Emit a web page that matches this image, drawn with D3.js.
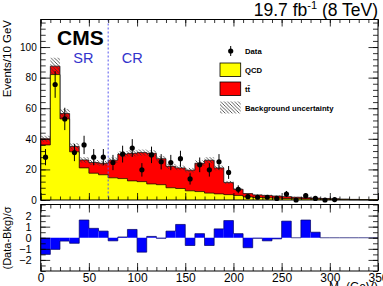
<!DOCTYPE html>
<html><head><meta charset="utf-8">
<script src="https://cdn.jsdelivr.net/npm/d3@7"></script>
<style>body{margin:0;background:#fff} svg{display:block} text{font-family:"Liberation Sans",Arial,Helvetica,sans-serif}</style>
</head><body><svg id="c" width="383" height="286"></svg>
<script>
const binLow = [0,10,20,30,40,50,60,70,80,90,100,110,120,130,140,150,160,170,180,190,200,210,220,230,240,250,260,270,280,290,300,310,320,330,340];
const binWidth = 10;
const qcd   = [36,82,53,31.5,21,17.5,16.5,14.5,14,12.5,12,10.5,10,8,7.5,6,5.5,4.5,4,3.5,3,2,1.6,1.4,1.2,1,0.9,0.7,0.6,0.5,0.4,0.3,0.2,0.15,0.1];
const ttbar = [4,5.5,3.5,3.5,5.2,7,7.5,11.5,16,18,19,20,17,14,13.5,13.5,18.5,21.5,17,8,4,2.2,1.7,1.6,1.4,1.2,0.9,0.8,0.6,0.5,0.4,0.3,0.2,0.15,0.1];
const bkgUnc = [2,5.5,3,2.2,1.8,1.6,1.6,1.8,2,2,2,2,1.8,1.6,1.5,1.5,1.8,2,1.6,1,0.7,0.4,0.4,0.4,0.3,0.3,0.3,0.3,0.2,0.2,0.2,0.1,0.1,0.1,0.1];
const dataVal = [28,75.5,53,31,36,28,28,24.5,30,34,19.7,29.5,25,24.5,27,13.8,23,19.7,25,18,7,2.2,1.8,1.8,1,3.9,0,2.8,1,0,0.3];
const dataErr = [5.3,8.7,7.3,5.6,6,5.3,5.3,5,5.5,5.8,4.4,5.4,5,5,5.2,3.7,4.8,4.4,5,4.2,2.6,1.5,1.3,1.3,1,2,0,1.7,1,0,0.5];
const pull = [-1.5,-1.05,-0.3,-0.5,1.6,0.85,0.6,-0.28,0.07,0.75,-1.3,0.12,-0.05,0.6,1.2,-0.7,0.37,-0.7,0.8,1.55,0.37,-0.9,-0.05,-0.28,-0.1,1.5,0,1.6,0.5,0,0,0,0,0,0];
const xTicks = [0,50,100,150,200,250,300,350];
const yTicks = [0,20,40,60,80,100];
const pullTicks = [-2,-1,0,1,2];
const srCrBoundary = 70;

const svg = d3.select("#c");
const L = 40.7, R = 378, T = 19.5, B = 200, RT = 204.5, RB = 271;
const x = d3.scaleLinear().domain([0,350]).range([L,R]);
const y = d3.scaleLinear().domain([0,118]).range([B,T]);
const yr = d3.scaleLinear().domain([-3,3]).range([RB,RT]);

const defs = svg.append("defs");
const pat = defs.append("pattern").attr("id","hatch").attr("patternUnits","userSpaceOnUse").attr("width",3.5).attr("height",3.5);
pat.append("path").attr("d","M0,0 L3.5,3.5 M-1,2.5 L1,4.5 M2.5,-1 L4.5,1").attr("stroke","#333").attr("stroke-width",0.8);

const total = qcd.map((q,i)=>q+ttbar[i]);
function stepPts(vals){
  const pts=[[binLow[0],0]];
  vals.forEach((v,i)=>{pts.push([binLow[i],v]);pts.push([binLow[i]+binWidth,v]);});
  pts.push([binLow[binLow.length-1]+binWidth,0]);
  return pts;
}
const area = d3.area().x(d=>x(d[0])).y0(y(0)).y1(d=>y(d[1]));
const line = d3.line().x(d=>x(d[0])).y(d=>y(d[1]));

svg.append("path").attr("d",area(stepPts(total))).attr("fill","#ff0000");
svg.append("path").attr("d",line(stepPts(total))).attr("fill","none").attr("stroke","#000").attr("stroke-width",0.7);
svg.append("path").attr("d",area(stepPts(qcd))).attr("fill","#ffff00");
svg.append("path").attr("d",line(stepPts(qcd))).attr("fill","none").attr("stroke","#000").attr("stroke-width",0.7);

svg.append("g").selectAll("rect").data(binLow).join("rect")
  .attr("x",(d)=>x(d)).attr("width",(d)=>x(d+binWidth)-x(d))
  .attr("y",(d,i)=>y(total[i]+bkgUnc[i])).attr("height",(d,i)=>y(total[i]-bkgUnc[i])-y(total[i]+bkgUnc[i]))
  .attr("fill","url(#hatch)");

const dg = svg.append("g");
dataVal.forEach((v,i)=>{
  const cx = x(binLow[i]+binWidth/2);
  dg.append("line").attr("x1",cx).attr("x2",cx).attr("y1",y(v-dataErr[i])).attr("y2",y(v+dataErr[i])).attr("stroke","#000").attr("stroke-width",1);
  dg.append("circle").attr("cx",cx).attr("cy",y(v)).attr("r",2.6).attr("fill","#000");
});

svg.append("line").attr("x1",x(srCrBoundary)).attr("x2",x(srCrBoundary)).attr("y1",T).attr("y2",B)
  .attr("stroke","#5555ee").attr("stroke-width",1).attr("stroke-dasharray","2,2");

svg.append("rect").attr("x",L).attr("y",T).attr("width",R-L).attr("height",B-T).attr("fill","none").attr("stroke","#000").attr("stroke-width",1);

function axisG(ax){ const g=svg.append("g").call(ax); g.select(".domain").remove(); g.selectAll("text").attr("font-family","Liberation Sans, Arial, sans-serif"); return g; }
const yMinor = d3.range(0,118,4);
const xMinor = d3.range(0,351,10);
axisG(d3.axisLeft(y).tickValues(yTicks).tickSize(-9.5).tickPadding(4).tickFormat(d3.format("d"))).attr("transform",`translate(${L},0)`).selectAll("text").attr("font-size",10);
axisG(d3.axisLeft(y).tickValues(yMinor).tickSize(-5).tickFormat("")).attr("transform",`translate(${L},0)`);
axisG(d3.axisRight(y).tickValues(yTicks).tickSize(-9.5).tickFormat("")).attr("transform",`translate(${R},0)`);
axisG(d3.axisRight(y).tickValues(yMinor).tickSize(-5).tickFormat("")).attr("transform",`translate(${R},0)`);
axisG(d3.axisBottom(x).tickValues(xTicks).tickSize(-7).tickFormat("")).attr("transform",`translate(0,${B})`);
axisG(d3.axisBottom(x).tickValues(xMinor).tickSize(-3.5).tickFormat("")).attr("transform",`translate(0,${B})`);
axisG(d3.axisTop(x).tickValues(xTicks).tickSize(-7).tickFormat("")).attr("transform",`translate(0,${T})`);
axisG(d3.axisTop(x).tickValues(xMinor).tickSize(-3.5).tickFormat("")).attr("transform",`translate(0,${T})`);

svg.append("g").selectAll("rect").data(binLow).join("rect")
  .attr("x",d=>x(d)).attr("width",d=>x(d+binWidth)-x(d))
  .attr("y",(d,i)=>Math.min(yr(0),yr(pull[i]))).attr("height",(d,i)=>Math.abs(yr(pull[i])-yr(0)))
  .attr("fill","#0000ff");
const rline = d3.line().x(d=>x(d[0])).y(d=>yr(d[1]));
svg.append("path").attr("d",rline(stepPts(pull))).attr("fill","none").attr("stroke","#000066").attr("stroke-width",0.7);
svg.append("rect").attr("x",L).attr("y",RT).attr("width",R-L).attr("height",RB-RT).attr("fill","none").attr("stroke","#000").attr("stroke-width",1);
const rMinor = d3.range(-3,3.01,0.5);
const minusFmt = d=> d<0 ? "\u2212"+Math.abs(d) : String(d);
axisG(d3.axisLeft(yr).tickValues(pullTicks).tickSize(-9.5).tickPadding(9).tickFormat(minusFmt)).attr("transform",`translate(${L},0)`).selectAll("text").attr("font-size",11);
axisG(d3.axisLeft(yr).tickValues(rMinor).tickSize(-5).tickFormat("")).attr("transform",`translate(${L},0)`);
axisG(d3.axisRight(yr).tickValues(pullTicks).tickSize(-9.5).tickFormat("")).attr("transform",`translate(${R},0)`);
axisG(d3.axisRight(yr).tickValues(rMinor).tickSize(-5).tickFormat("")).attr("transform",`translate(${R},0)`);
axisG(d3.axisBottom(x).tickValues(xTicks).tickSize(-8).tickPadding(2).tickFormat(d3.format("d"))).attr("transform",`translate(0,${RB})`).selectAll("text").attr("font-size",12);
axisG(d3.axisBottom(x).tickValues(xMinor).tickSize(-4).tickFormat("")).attr("transform",`translate(0,${RB})`);
axisG(d3.axisTop(x).tickValues(xTicks).tickSize(-8).tickFormat("")).attr("transform",`translate(0,${RT})`);
axisG(d3.axisTop(x).tickValues(xMinor).tickSize(-4).tickFormat("")).attr("transform",`translate(0,${RT})`);
svg.selectAll(".tick line").attr("stroke","#000").attr("stroke-width",0.8);
svg.selectAll(".tick text").attr("fill","#000");

const lumi = svg.append("text").attr("x",378).attr("y",16).attr("text-anchor","end").attr("font-size",17.5);
lumi.append("tspan").text("19.7 fb");
lumi.append("tspan").attr("font-size",11).attr("dy",-7).text("-1");
lumi.append("tspan").attr("dy",7).text(" (8 TeV)");

svg.append("text").attr("x",57).attr("y",45).attr("font-size",21).attr("font-weight","bold").text("CMS");
svg.append("text").attr("x",73.3).attr("y",62.7).attr("font-size",14.5).attr("fill","#3333cc").text("SR");
svg.append("text").attr("x",121.7).attr("y",62.7).attr("font-size",14.5).attr("fill","#3333cc").text("CR");

svg.append("text").attr("transform","translate(10.5,20) rotate(-90)").attr("text-anchor","end").attr("font-size",11.5).text("Events/10 GeV");
svg.append("text").attr("transform","translate(10.5,238) rotate(-90)").attr("text-anchor","middle").attr("font-size",11).text("(Data-Bkg)/\u03c3");
const xl = svg.append("text").attr("x",378).attr("y",291).attr("text-anchor","end").attr("font-size",12);
xl.append("tspan").text("M");
xl.append("tspan").attr("font-size",8.5).attr("dy",3).text("jj");
xl.append("tspan").attr("dy",-3).text(" (GeV)");

const lg = svg.append("g");
lg.append("line").attr("x1",230.7).attr("x2",230.7).attr("y1",46).attr("y2",56).attr("stroke","#000");
lg.append("circle").attr("cx",230.7).attr("cy",51).attr("r",2.6).attr("fill","#000");
lg.append("rect").attr("x",220).attr("y",63).attr("width",20.7).attr("height",13.5).attr("fill","#ffff00").attr("stroke","#000").attr("stroke-width",0.8);
lg.append("rect").attr("x",220).attr("y",82).attr("width",20.7).attr("height",13.5).attr("fill","#ff0000").attr("stroke","#000").attr("stroke-width",0.8);
lg.append("rect").attr("x",220).attr("y",101.5).attr("width",20.7).attr("height",12).attr("fill","url(#hatch)");
const legTxt = [["Data",53.7],["QCD",72.7],["t\u0074\u0304",92],["Background uncertainty",110.5]];
legTxt.forEach(([t,yy])=>lg.append("text").attr("x",245).attr("y",yy).attr("font-size",7.7).attr("font-weight","bold").text(t));
</script></body></html>
